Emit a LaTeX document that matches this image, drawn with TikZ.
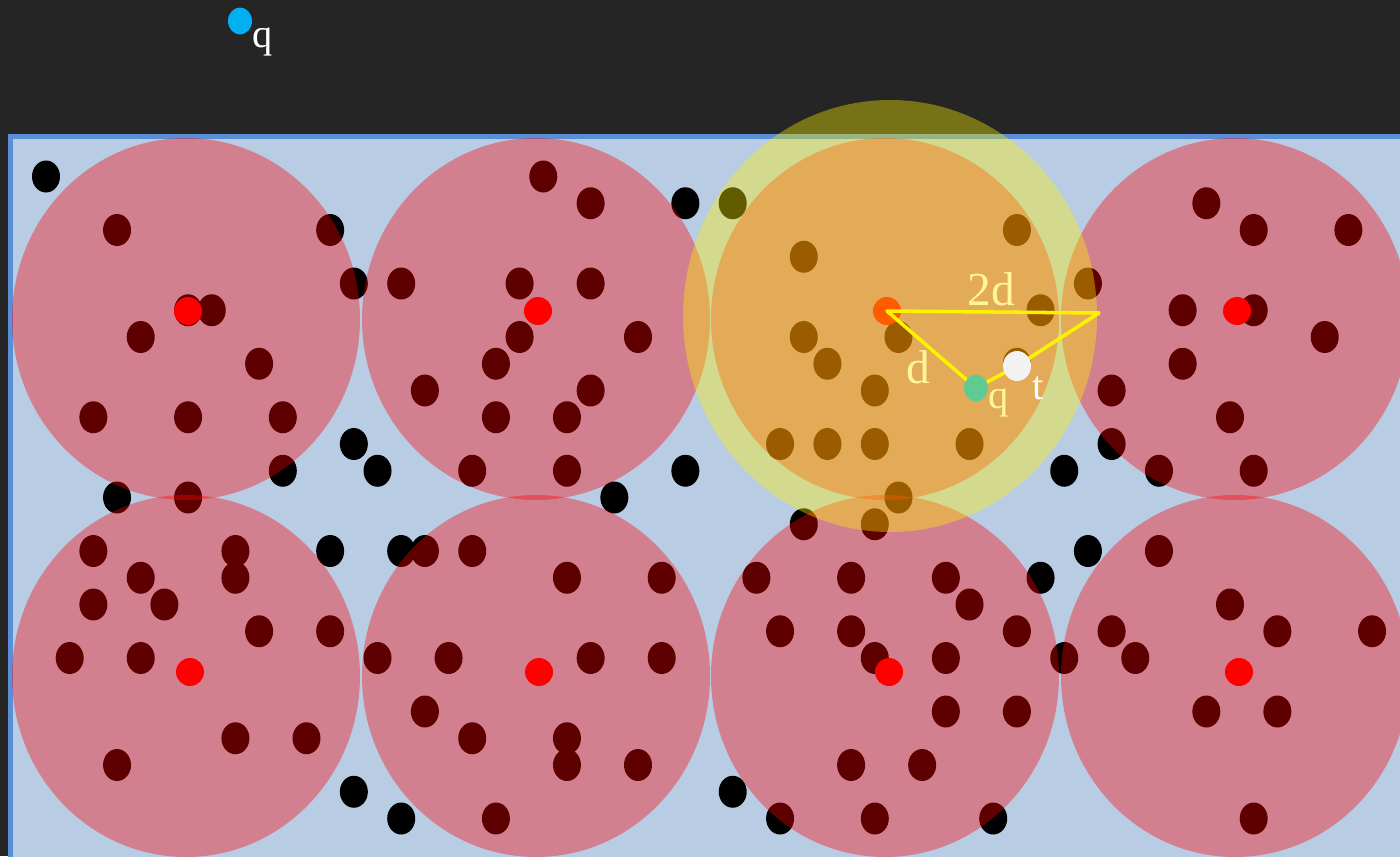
\documentclass[tikz,border=0pt]{standalone}
\usepackage{fontspec}
\setmainfont{Liberation Serif}
\usetikzlibrary{positioning}
\definecolor{Night}{HTML}{252525}
\definecolor{Panel}{HTML}{B8CCE4}
\definecolor{PanelEdge}{HTML}{5B8FD5}
\definecolor{Query}{HTML}{00B0F0}
\definecolor{Mint}{HTML}{5FCB92}
\definecolor{Snow}{HTML}{F2F2F2}
\definecolor{Pale}{HTML}{FFF59A}
\tikzset{
    blackdot/.style={fill=black},
    cell/.style={fill=red, fill opacity=0.37},
    seed/.style={fill=red},
    reach/.style={fill=yellow, fill opacity=0.38},
    leg/.style={draw=yellow, line width=2pt, line join=round},
    biglabel/.style={text=Pale, font=\fontsize{27}{31}\selectfont, inner sep=0pt, anchor=base},
    smalllabel/.style={font=\fontsize{23}{26}\selectfont, inner sep=0pt, anchor=base},
}

\begin{document}
\begin{tikzpicture}[x=0.02cm, y=-0.02cm]
    % Background and panel
    \useasboundingbox (0,0) rectangle (1400,856);
    \fill[Night] (0,0) rectangle (1400,856);
    \clip (0,0) rectangle (1400,856);
    \fill[Panel, draw=PanelEdge, line width=2.8pt] (10.5,136.5) rectangle (1430,880);

    % Points on the grid
    \foreach \i/\j in {0/0, 3/2, 12/2, 6/5, 7/5, 4/6, 9/7, 2/9, 6/9, 10/9, 10/11, 3/12, 6/12, 13/4, 15/4, 13/10, 14/11,
        21/0, 23/1, 27/1, 20/4, 23/4, 20/6, 25/6, 19/7, 16/8, 23/8, 19/9, 22/9, 18/11, 22/11, 27/11, 24/12,
        29/1, 41/2, 32/3, 44/4, 42/5, 32/6, 36/6, 33/7, 41/7, 35/8, 31/10, 33/10, 35/10, 39/10, 36/12, 35/13, 32/13, 43/11, 45/8, 45/10,
        49/1, 51/2, 55/2, 48/5, 51/5, 54/6, 48/7, 50/9, 47/11, 51/11,
        2/14, 8/14, 12/14, 4/15, 8/15, 2/16, 5/16, 9/17, 12/17, 1/18, 4/18, 8/21, 11/21, 3/22, 13/23,
        15/14, 16/14, 18/14, 22/15, 26/15, 14/18, 17/18, 23/18, 26/18, 16/20, 18/21, 22/21, 22/22, 25/22, 15/24, 19/24,
        30/15, 34/15, 38/15, 42/15, 39/16, 31/17, 34/17, 41/17, 35/18, 38/18, 43/18, 38/20, 41/20, 34/22, 37/22, 29/23, 31/24, 35/24, 40/24,
        44/14, 47/14, 50/16, 45/17, 52/17, 56/17, 46/18, 49/20, 52/20, 51/24}
        \fill[blackdot] ({46+23.68*\i},{176.5+26.75*\j}) ellipse [x radius=14, y radius=16];

    % Clusters
    \foreach \cx/\cy in {186/319, 536/319, 885/319, 1235/319, 186/676, 536/676, 885/676, 1235/676}
        \fill[cell] (\cx,\cy) ellipse [x radius=174, y radius=181];

    \coordinate (hub) at (887,311);
    \foreach \sx/\sy in {188/311, 538/311, 887/311, 1237/311, 190/672, 539/672, 889/672, 1239/672}
        \fill[seed] (\sx,\sy) circle [radius=14];

    % Search range
    \fill[reach] (890,316) ellipse [x radius=207, y radius=216];

    \coordinate (rim) at (1099,313);
    \coordinate (qpt) at (976,388);
    \coordinate (tpt) at (1017,366);
    \draw[leg] (hub) -- (rim) -- (tpt) -- (qpt) -- cycle;
    \fill[Mint] (qpt) ellipse [x radius=12, y radius=13.5];
    \fill[Snow] (tpt) ellipse [x radius=14, y radius=15];
    \fill[Query] (240,21) ellipse [x radius=12, y radius=13.5];

    % Labels
    \node[biglabel] (twod) at (991,305) {2d};
    \node[biglabel] (dlab) at (918,383) {d};
    \node[smalllabel, text=Pale] (qlab) at (999,408) {q};
    \node[smalllabel, text=white] (tlab) at (1038,399) {t};
    \node[smalllabel, text=white] (qtop) at (263,47) {q};
\end{tikzpicture}
\end{document}
